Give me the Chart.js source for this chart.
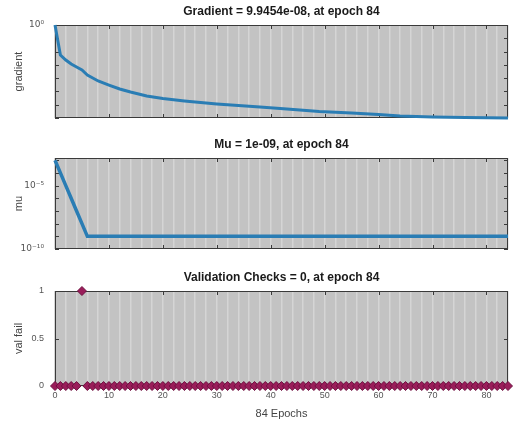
<!DOCTYPE html>
<html>
<head>
<meta charset="utf-8">
<script src="https://cdn.jsdelivr.net/npm/chart.js@4.4.0/dist/chart.umd.min.js"></script>
<style>
  html, body { margin: 0; padding: 0; background: #fff; }
  #wrap { position: relative; width: 514px; height: 421px; }
  canvas { position: absolute; left: 0; top: 0; }
</style>
</head>
<body>
<div id="wrap">
  <canvas id="gradChart" width="514" height="421"></canvas>
  <canvas id="muChart" width="514" height="421"></canvas>
  <canvas id="valChart" width="514" height="421"></canvas>
</div>
<script>
// Training state (84 epochs)

const xTickLabels = [0, 10, 20, 30, 40, 50, 60, 70, 80];

// gradient (log scale)
const gradEpochs = [0, 1, 2, 3, 4, 5, 6, 7, 8, 10, 12, 14, 17, 20, 24, 27, 30, 34, 38, 43, 49, 55, 60, 64, 70, 76, 80, 84];
const gradValues = [1, 5.5e-3, 2.3e-3, 1.16e-3, 6.9e-4, 4.1e-4, 1.72e-4, 1.02e-4, 6.1e-5, 3.0e-5, 1.52e-5, 9.0e-6,
  4.5e-6, 2.9e-6, 1.9e-6, 1.46e-6, 1.13e-6, 8.7e-7, 6.7e-7, 4.7e-7, 3.1e-7, 2.37e-7, 1.83e-7, 1.41e-7,
  1.18e-7, 1.09e-7, 1.03e-7, 9.9454e-8];

// mu (log scale)
const muEpochs = [0, 1, 2, 3, 4, 5, 6, 84];
const muValues = [1e-3, 1e-4, 1e-5, 1e-6, 1e-7, 1e-8, 1e-9, 1e-9];

// validation checks, one per epoch 0..84
const valFail = [
  0, 0, 0, 0, 0, 1, 0, 0, 0, 0,
  0, 0, 0, 0, 0, 0, 0, 0, 0, 0,
  0, 0, 0, 0, 0, 0, 0, 0, 0, 0,
  0, 0, 0, 0, 0, 0, 0, 0, 0, 0,
  0, 0, 0, 0, 0, 0, 0, 0, 0, 0,
  0, 0, 0, 0, 0, 0, 0, 0, 0, 0,
  0, 0, 0, 0, 0, 0, 0, 0, 0, 0,
  0, 0, 0, 0, 0, 0, 0, 0, 0, 0,
  0, 0, 0, 0, 0
];

const gradTicks = [1];
const muTicks = [1e-10, 1e-5];
const valTicks = [0, 0.5, 1];

const supers = { '-': '⁻', '0': '⁰', '1': '¹', '2': '²', '3': '³', '4': '⁴', '5': '⁵', '6': '⁶', '7': '⁷', '8': '⁸', '9': '⁹' };
function powLabel(v) {
  const e = String(Math.round(Math.log10(v)));
  return '10' + e.split('').map(c => supers[c]).join('');
}

const LINE_BLUE = '#2a7db4';
const TICK_FONT = { family: "'Liberation Sans', Arial, sans-serif", size: 9 };
const POW_FONT = { family: "'DejaVu Sans', sans-serif", size: 9 };
const AXIS_FONT = { family: "'Liberation Sans', Arial, sans-serif", size: 11 };

// gray axes box, MATLAB style frame, inner ticks and title
const framePlugin = {
  id: 'frame',
  beforeDraw(chart) {
    const { ctx, chartArea: a } = chart;
    ctx.save();
    ctx.fillStyle = '#c3c3c3';
    ctx.fillRect(a.left, a.top, a.width, a.height);
    ctx.restore();
  },
  beforeDatasetsDraw(chart, args, opts) {
    const { ctx, chartArea: a, scales } = chart;
    ctx.save();
    ctx.strokeStyle = '#3a3a3a';
    ctx.lineWidth = 1;
    ctx.strokeRect(a.left + 0.5, a.top + 0.5, a.width - 1, a.height - 1);
    ctx.beginPath();
    xTickLabels.forEach(v => {
      const x = Math.round(scales.x.getPixelForValue(v)) + 0.5;
      ctx.moveTo(x, a.top); ctx.lineTo(x, a.top + 4);
      ctx.moveTo(x, a.bottom); ctx.lineTo(x, a.bottom - 4);
    });
    (opts.yMarks || []).forEach(v => {
      const y = Math.round(scales.y.getPixelForValue(v)) + 0.5;
      ctx.moveTo(a.left, y); ctx.lineTo(a.left + 4, y);
      ctx.moveTo(a.right, y); ctx.lineTo(a.right - 4, y);
    });
    ctx.stroke();
    ctx.restore();
  },
  afterDraw(chart, args, opts) {
    const { ctx, chartArea: a } = chart;
    ctx.save();
    ctx.fillStyle = '#1a1a1a';
    ctx.font = "bold 12px 'Liberation Sans', Arial, sans-serif";
    ctx.textAlign = 'center';
    ctx.textBaseline = 'middle';
    ctx.fillText(opts.title, (a.left + a.right) / 2, a.top - 13);
    ctx.restore();
  }
};

function xScale(showLabels) {
  return {
    type: 'linear',
    min: 0,
    max: 84,
    afterFit: s => { s.height = showLabels ? 35 : 0; },
    ticks: {
      display: showLabels,
      stepSize: 2,
      maxTicksLimit: 100,
      autoSkip: false,
      maxRotation: 0,
      padding: 4,
      color: '#555',
      font: TICK_FONT,
      callback: v => xTickLabels.includes(v) ? String(v) : ''
    },
    grid: { color: '#d5d5d5', lineWidth: 1.5, drawTicks: false },
    border: { display: false },
    title: {
      display: showLabels,
      text: '84 Epochs',
      color: '#444',
      font: AXIS_FONT,
      padding: { top: 4, bottom: 0 }
    }
  };
}

function yTitle(text) {
  return { display: true, text: text, color: '#444', font: AXIS_FONT, padding: { top: 12, bottom: 0 } };
}

const baseOptions = (padding) => ({
  responsive: false,
  animation: false,
  layout: { padding: padding },
  plugins: { legend: { display: false }, tooltip: { enabled: false } }
});

function logDecades(lo, hi) {
  const out = [];
  for (let e = Math.ceil(Math.log10(lo)); e <= Math.floor(Math.log10(hi)); e++) out.push(Math.pow(10, e));
  return out;
}

// 1. Gradient
new Chart(document.getElementById('gradChart'), {
  type: 'line',
  data: {
    datasets: [{
      data: gradEpochs.map((e, i) => ({ x: e, y: gradValues[i] })),
      borderColor: LINE_BLUE,
      borderWidth: 3,
      pointRadius: 0,
      tension: 0,
      clip: false
    }]
  },
  options: Object.assign(baseOptions({ left: 0, right: 6, top: 25, bottom: 303 }), {
    scales: {
      x: xScale(false),
      y: {
        type: 'logarithmic',
        min: 9.9454e-8,
        max: 1,
        afterFit: s => { s.width = 55; },
        afterBuildTicks: s => { s.ticks = gradTicks.map(v => ({ value: v })); },
        ticks: { color: '#555', font: POW_FONT, padding: 3, callback: v => powLabel(v) },
        grid: { display: false },
        border: { display: false },
        title: yTitle('gradient')
      }
    },
    plugins: {
      legend: { display: false },
      tooltip: { enabled: false },
      frame: { title: 'Gradient = 9.9454e-08, at epoch 84', yMarks: logDecades(9.9454e-8, 1) }
    }
  }),
  plugins: [framePlugin]
});

// 2. Mu
new Chart(document.getElementById('muChart'), {
  type: 'line',
  data: {
    datasets: [{
      data: muEpochs.map((e, i) => ({ x: e, y: muValues[i] })),
      borderColor: LINE_BLUE,
      borderWidth: 3.5,
      pointRadius: 0,
      tension: 0,
      clip: false
    }]
  },
  options: Object.assign(baseOptions({ left: 0, right: 6, top: 158, bottom: 172 }), {
    scales: {
      x: xScale(false),
      y: {
        type: 'logarithmic',
        min: 1e-10,
        max: 1.5e-3,
        afterFit: s => { s.width = 55; },
        afterBuildTicks: s => { s.ticks = muTicks.map(v => ({ value: v })); },
        ticks: { color: '#555', font: POW_FONT, padding: 3, callback: v => powLabel(v) },
        grid: { display: false },
        border: { display: false },
        title: yTitle('mu')
      }
    },
    plugins: {
      legend: { display: false },
      tooltip: { enabled: false },
      frame: { title: 'Mu = 1e-09, at epoch 84', yMarks: logDecades(1e-10, 1.5e-3) }
    }
  }),
  plugins: [framePlugin]
});

// 3. Validation checks
new Chart(document.getElementById('valChart'), {
  type: 'line',
  data: {
    datasets: [{
      data: valFail.map((v, i) => ({ x: i, y: v })),
      showLine: false,
      pointStyle: 'rectRot',
      pointRadius: 4.5,
      backgroundColor: '#9a1d5a',
      borderColor: '#6e1140',
      borderWidth: 1,
      clip: false
    }]
  },
  options: Object.assign(baseOptions({ left: 0, right: 6, top: 291, bottom: 0 }), {
    scales: {
      x: xScale(true),
      y: {
        type: 'linear',
        min: 0,
        max: 1,
        afterFit: s => { s.width = 55; },
        afterBuildTicks: s => { s.ticks = valTicks.map(v => ({ value: v })); },
        ticks: { color: '#555', font: TICK_FONT, padding: 3, callback: v => String(v) },
        grid: { display: false },
        border: { display: false },
        title: yTitle('val fail')
      }
    },
    plugins: {
      legend: { display: false },
      tooltip: { enabled: false },
      frame: { title: 'Validation Checks = 0, at epoch 84', yMarks: valTicks }
    }
  }),
  plugins: [framePlugin]
});
</script>
</body>
</html>
